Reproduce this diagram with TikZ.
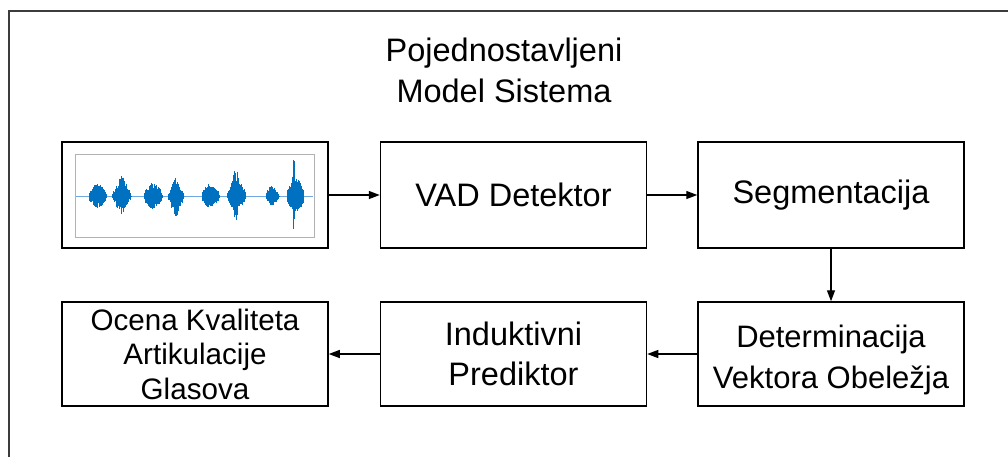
\documentclass[tikz,border=0pt]{standalone}
\usepackage{fontspec}
\setmainfont{Liberation Sans}
\usetikzlibrary{arrows.meta}
\definecolor{wavec}{RGB}{0,112,192}
\definecolor{wavel}{RGB}{110,170,225}
\definecolor{framec}{RGB}{60,60,60}
\tikzset{
  blk/.style={draw=black, line width=1.5pt, minimum width=266pt, inner sep=0pt, align=center,
              font=\fontsize{32.5}{41}\selectfont},
  conn/.style={line width=1.3pt, -{Triangle[length=11pt,width=8pt]}},
  wave/.style={wavec, line width=0.6pt},
}
\begin{document}
\begin{tikzpicture}[x=1pt,y=-1pt]
\useasboundingbox (0,0) rectangle (1008,456);
% outer frame (open to the right and bottom)
\draw[framec, line width=2pt] (9,460) -- (9,10.5) -- (1012,10.5);
% title
\node[align=center, font=\fontsize{32.5}{41}\selectfont] (title) at (504,70.5) {Pojednostavljeni\\Model Sistema};
% blocks
\node[blk, minimum height=106pt] (wave) at (195,195) {};
\node[blk, minimum height=106pt] (vad) at (513.5,195) {VAD Detektor};
\node[blk, minimum height=106pt] (seg) at (831,195) {Segmentacija};
\node[blk, minimum height=104pt, font=\fontsize{29.6}{34.5}\selectfont] (oce) at (195,354) {Ocena Kvaliteta\\Artikulacije\\Glasova};
\node[blk, minimum height=104pt, font=\fontsize{32.5}{40}\selectfont] (ind) at (513.5,354) {Induktivni\\Prediktor};
\node[blk, minimum height=104pt] (det) at (831,354) {};
\node[align=center, inner sep=0pt, font=\fontsize{31}{41}\selectfont] (dett) at (831,360) {Determinacija\\Vektora Obeležja};
% waveform inner frame
\draw[black!30, line width=1pt] (75,154) rectangle (314,237);
\draw[wavel, line width=0.8pt] (76,196) -- (313,196);
\pgfmathsetseed{7}
\foreach \xs/\xe/\up/\dn/\p/\s in {
  89/106/12/12/0.5/0.5,
  112/131/22/19/0.5/0.25,
  144/162/13/13/0.5/0.5,
  168/184/19/23/0.45/0.2,
  202/219/13/13/0.45/0.45,
  227/246/30/28/0.45/0.15,
  266/279/10/10/0.4/0.4,
  287/304/40/35/0.4/0.08}{
  \pgfmathsetmacro{\w}{\xe-\xs}
  \foreach \i in {0,...,44}{
    \pgfmathsetmacro{\t}{\i/44}
    \pgfmathsetmacro{\env}{0.45*sqrt(sin(180*\t))+0.55*exp(-((\t-\p)/\s)^2)}
    \pgfmathsetmacro{\xx}{\xs+\w*\t}
    \pgfmathsetmacro{\a}{\up*\env*(0.5+0.5*rnd)}
    \pgfmathsetmacro{\bb}{\dn*\env*(0.5+0.5*rnd)}
    \draw[wave] (\xx,196-\a) -- (\xx,196+\bb);
  }
}
% connectors
\draw[conn] (wave.east) -- (vad.west);
\draw[conn] (vad.east) -- (seg.west);
\draw[conn] (seg.south) -- (det.north);
\draw[conn] (det.west) -- (ind.east);
\draw[conn] (ind.west) -- (oce.east);
\end{tikzpicture}
\end{document}
